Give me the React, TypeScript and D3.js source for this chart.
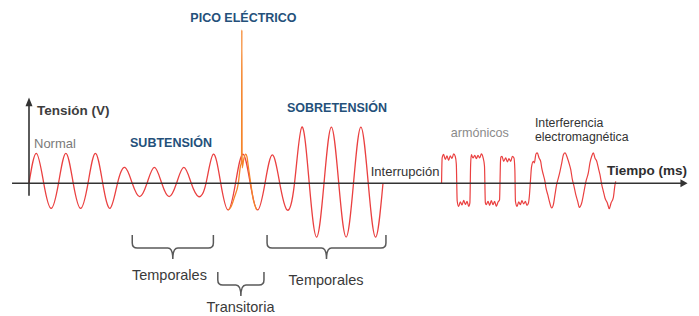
import React from 'react';
import * as d3 from 'd3';

// mains cycles, 20 ms each, starting at t = 0 (ms); peak / trough in volts
const PERIOD_MS = 20;
const cyclePeaks = [360, 360, 360, 190, 190, 190, 350, 350, 340, 675, 675, 675];
const cycleTroughs = [-300, -300, -300, -160, -160, -160, -320, -320, -320, -645, -645, -645];

// transient spike drawn over cycle 8 (ms, V)
const spikeWave: [number, number][] = [
  [135.1, -320], [136.9, -285], [139.3, -165], [141.9, 0], [143.3, 200], [144.1, 260],
  [144.3, 1840], [144.5, 185], [145.6, 290], [146.9, 350], [147.8, 316],
  [148.7, 200], [150.3, 0], [152.1, -200], [154.4, -320],
];

// distorted wave with harmonics (ms, V)
const harmonicWave: [number, number][] = [
  [279.7, 0], [280.1, 304], [281.1, 346], [282.2, 286], [283.4, 328], [284.5, 274],
  [285.6, 328], [286.8, 298], [287.9, 352], [289.0, 322], [289.7, 232],
  [290.3, -212], [291.3, -278], [292.4, -224], [293.6, -260], [294.7, -206],
  [295.8, -254], [297.0, -218], [298.1, -278], [298.9, -236],
  [299.4, 220], [299.9, 343], [301.0, 304], [302.2, 336], [303.3, 295], [304.4, 336],
  [305.6, 304], [306.7, 352], [307.8, 312], [308.8, 208],
  [309.4, -236], [310.0, -257], [311.2, -216], [312.3, -264], [313.4, -209],
  [314.6, -257], [315.7, -216], [316.8, -276], [318.0, -224], [319.0, -200],
  [319.7, 280], [320.0, 316], [320.7, 324], [321.8, 264], [323.2, 304], [324.3, 256],
  [325.4, 295], [326.6, 264], [327.7, 324], [328.8, 304], [329.4, 160],
  [329.8, -216], [330.9, -276], [332.0, -224], [333.1, -257], [334.2, -209],
  [335.4, -248], [336.5, -216], [337.6, -264], [338.6, -236],
];

// electromagnetic interference (ms, V)
const emiWave: [number, number][] = [
  [339.3, -140], [340.0, 40], [340.7, 196], [341.9, 264], [342.6, 244], [343.7, 352],
  [344.6, 364], [345.8, 304], [346.9, 264], [347.6, 184], [348.7, 103], [349.8, 24],
  [350.5, -56], [351.7, -137], [352.8, -216], [354.4, -296], [355.5, -257],
  [356.6, -137], [357.8, -8], [358.9, 64], [360.0, 144], [361.2, 244], [362.3, 343],
  [363.4, 364], [365.0, 304], [366.1, 244], [367.3, 163], [368.4, 43], [369.5, -36],
  [370.7, -137], [372.0, -216], [373.1, -288], [374.7, -236], [376.3, -96],
  [377.6, 24], [379.2, 124], [380.3, 244], [381.5, 324], [382.6, 364], [383.7, 304],
  [384.9, 264], [386.0, 184], [387.1, 103], [388.3, -17], [389.4, -96], [390.5, -176],
  [392.1, -236], [393.4, -305], [394.6, -236], [396.1, -176], [397.3, -17], [397.8, 24],
];

const timeAxis = [-11.5, 443, 446.5]; // start, end, arrow tip (ms)
const voltAxis = [-150, 950, 1030]; // bottom, top, arrow tip (V)

const braces = [
  { from: 70, to: 125, top: 235, label: 'Temporales', labelT: 95.2, labelY: 280 },
  { from: 128, to: 159.3, top: 272, label: 'Transitoria', labelT: 143.4, labelY: 312 },
  { from: 161.4, to: 242, top: 235, label: 'Temporales', labelT: 201.4, labelY: 285 },
];

const FONT = '"Liberation Sans", Arial, Helvetica, sans-serif';
const BLUE = '#24507a';

function bracePath(x0: number, x1: number, top: number, depth = 13, tip = 11, r = 5) {
  const cx = (x0 + x1) / 2;
  const hy = top + depth;
  return `M${x0},${top} L${x0},${hy - r} Q${x0},${hy} ${x0 + r},${hy} L${cx - r},${hy} ` +
    `Q${cx},${hy} ${cx},${hy + tip} Q${cx},${hy} ${cx + r},${hy} L${x1 - r},${hy} ` +
    `Q${x1},${hy} ${x1},${hy - r} L${x1},${top}`;
}

export default function App() {
  const W = 699;
  const H = 316;

  const x = d3.scaleLinear().domain([0, 240]).range([29, 383]);
  const y = d3.scaleLinear().domain([-720, 1920]).range([243.3, 23.3]);

  // key points of the mains wave: zero, peak, zero, trough per cycle
  const mains: [number, number][] = [];
  cyclePeaks.forEach((p, i) => {
    const t0 = i * PERIOD_MS;
    mains.push([t0, 0], [t0 + PERIOD_MS / 4, p], [t0 + PERIOD_MS / 2, 0], [t0 + (3 * PERIOD_MS) / 4, cycleTroughs[i]]);
  });
  mains.push([cyclePeaks.length * PERIOD_MS, 0]);

  const smooth = d3.line<[number, number]>().x(d => x(d[0])).y(d => y(d[1])).curve(d3.curveNatural);
  const mono = d3.line<[number, number]>().x(d => x(d[0])).y(d => y(d[1])).curve(d3.curveMonotoneX);

  const y0 = y(0);
  const ax0 = x(timeAxis[0]);
  const ax1 = x(timeAxis[1]);
  const axTip = x(timeAxis[2]);
  const vx = x(0);
  const vy0 = y(voltAxis[0]);
  const vy1 = y(voltAxis[1]);
  const vyTip = y(voltAxis[2]);

  return (
    <svg width={W} height={H} style={{ position: 'absolute', left: 0, top: 0, display: 'block', background: '#fff' }}
      fontFamily={FONT}>
      <path d={smooth(mains) || ''} fill="none" stroke="#ea4040" strokeWidth={1.3} />
      <path d={mono(spikeWave) || ''} fill="none" stroke="#f5842a" strokeWidth={1.3} strokeLinejoin="round" />
      <path d={mono([...harmonicWave, ...emiWave]) || ''} fill="none" stroke="#ea4040" strokeWidth={1.2} />

      {/* axes */}
      <line x1={ax0} x2={ax1} y1={y0} y2={y0} stroke="#333" strokeWidth={1.6} />
      <path d={`M${axTip},${y0} L${ax1 - 2},${y0 - 4} L${ax1 - 2},${y0 + 4} Z`} fill="#333" />
      <line x1={vx} x2={vx} y1={vy0} y2={vy1} stroke="#333" strokeWidth={1.6} />
      <path d={`M${vx},${vyTip} L${vx - 3.5},${vy1 + 2} L${vx + 3.5},${vy1 + 2} Z`} fill="#333" />

      {/* labels */}
      <text x={x(5.4)} y={y(820)} fontSize={13.5} fontWeight="bold" fill="#3d3d3d">Tensión (V)</text>
      <text x={x(391.9)} y={y(100)} fontSize={13.5} fontWeight="bold" fill="#2e2e2e">Tiempo (ms)</text>
      <text x={x(3.4)} y={y(424)} fontSize={13} fill="#7a7a7a">Normal</text>
      <text x={x(68.5)} y={y(436)} fontSize={12.5} fontWeight="bold" fill={BLUE}>SUBTENSIÓN</text>
      <text x={x(145.4)} y={y(1936)} fontSize={12.5} fontWeight="bold" fill={BLUE} textAnchor="middle">PICO ELÉCTRICO</text>
      <text x={x(174.9)} y={y(856)} fontSize={12.5} fontWeight="bold" fill={BLUE}>SOBRETENSIÓN</text>
      <text x={x(231.7)} y={y(88)} fontSize={13} fill="#333">Interrupción</text>
      <text x={x(285.9)} y={y(556)} fontSize={12.6} fill="#8a8a8a">armónicos</text>
      <text x={x(343)} y={y(676)} fontSize={12.3} fill="#333">Interferencia</text>
      <text x={x(343)} y={y(512)} fontSize={12.3} fill="#333">electromagnética</text>

      {/* braces */}
      {braces.map((b, i) => (
        <g key={i}>
          <path d={bracePath(x(b.from), x(b.to), b.top)} fill="none" stroke="#595959" strokeWidth={1.5} />
          <text x={x(b.labelT)} y={b.labelY} fontSize={14.5} fill="#3a3a3a" textAnchor="middle">{b.label}</text>
        </g>
      ))}
    </svg>
  );
}
